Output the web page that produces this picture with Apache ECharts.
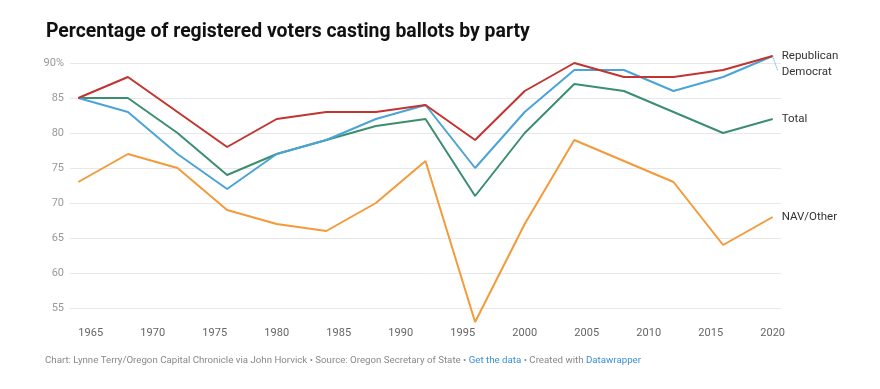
<!DOCTYPE html>
<html>
<head>
<meta charset="utf-8">
<script src="https://cdn.jsdelivr.net/npm/echarts@6/dist/echarts.min.js"></script>
<style>
html,body{margin:0;padding:0;background:#fff;}
#chart{width:880px;height:389px;}
</style>
</head>
<body>
<div id="chart"></div>
<script>
const years = [1964, 1968, 1972, 1976, 1980, 1984, 1988, 1992, 1996, 2000, 2004, 2008, 2012, 2016, 2020];
const republican = [85, 88, 83, 78, 82, 83, 83, 84, 79, 86, 90, 88, 88, 89, 91];
const democrat   = [85, 83, 77, 72, 77, 79, 82, 84, 75, 83, 89, 89, 86, 88, 91];
const total      = [85, 85, 80, 74, 77, 79, 81, 82, 71, 80, 87, 86, 83, 80, 82];
const navOther   = [73, 77, 75, 69, 67, 66, 70, 76, 53, 67, 79, 76, 73, 64, 68];
const xTicks = [1965, 1970, 1975, 1980, 1985, 1990, 1995, 2000, 2005, 2010, 2015, 2020];
const yTicks = [55, 60, 65, 70, 75, 80, 85, 90];

const pair = arr => years.map((y, i) => [y, arr[i]]);
const font = 'Roboto, "Noto Sans", sans-serif';

function lineSeries(name, data, color, labelOffset) {
  return {
    name: name,
    type: 'line',
    data: pair(data),
    symbol: 'none',
    lineStyle: { color: color, width: 2 },
    itemStyle: { color: color },
    endLabel: {
      show: true,
      formatter: name,
      color: '#333',
      fontFamily: font,
      fontSize: 11.5,
      distance: 9,
      offset: labelOffset || [0, 0]
    },
    emphasis: { disabled: true },
    animation: false
  };
}

const chart = echarts.init(document.getElementById('chart'));
const demSeries = lineSeries('Democrat', democrat, '#4ba3d6', [0, 16]);
demSeries.markLine = {
  silent: true,
  symbol: 'none',
  label: { show: false },
  lineStyle: { color: '#4ba3d6', type: 'dotted', width: 1 },
  data: [[{ coord: [2020, 91] }, { coord: [2020.4, 88.9] }]],
  animation: false
};

chart.setOption({
  animation: false,
  title: {
    text: 'Percentage of registered voters casting ballots by party',
    left: 41,
    top: 18,
    textStyle: { fontFamily: font, fontSize: 19.4, fontWeight: 'bold', color: '#111' }
  },
  graphic: [{
    type: 'text',
    left: 45,
    top: 356,
    style: {
      rich: {
        g: { fill: '#888', fontFamily: font, fontSize: 9.7 },
        b: { fill: '#3a8fd6', fontFamily: font, fontSize: 9.7 }
      },
      text: '{g|Chart: Lynne Terry/Oregon Capital Chronicle via John Horvick • Source: Oregon Secretary of State • }{b|Get the data}{g| • Created with }{b|Datawrapper}'
    }
  }],
  grid: { left: 70, right: 99, top: 56, bottom: 67, containLabel: false },
  xAxis: {
    type: 'value',
    min: 1963.33,
    max: 2020.67,
    axisLine: { show: false },
    axisTick: { show: false, customValues: xTicks },
    splitLine: { show: false },
    axisLabel: {
      customValues: xTicks,
      color: '#666',
      fontFamily: font,
      fontSize: 11,
      margin: 6,
      formatter: v => String(v)
    }
  },
  yAxis: {
    type: 'value',
    min: 53,
    max: 91,
    axisLine: { show: false },
    axisTick: { show: false, customValues: yTicks },
    splitLine: { show: true, lineStyle: { color: '#e8e8e8', width: 1 } },
    axisLabel: {
      customValues: yTicks,
      color: '#999',
      fontFamily: font,
      fontSize: 11,
      margin: 6,
      formatter: v => v === 90 ? '90%' : String(v)
    }
  },
  series: [
    lineSeries('NAV/Other', navOther, '#f39a3a'),
    lineSeries('Total', total, '#3b8e6f'),
    demSeries,
    lineSeries('Republican', republican, '#c2342f')
  ]
});
</script>
</body>
</html>
